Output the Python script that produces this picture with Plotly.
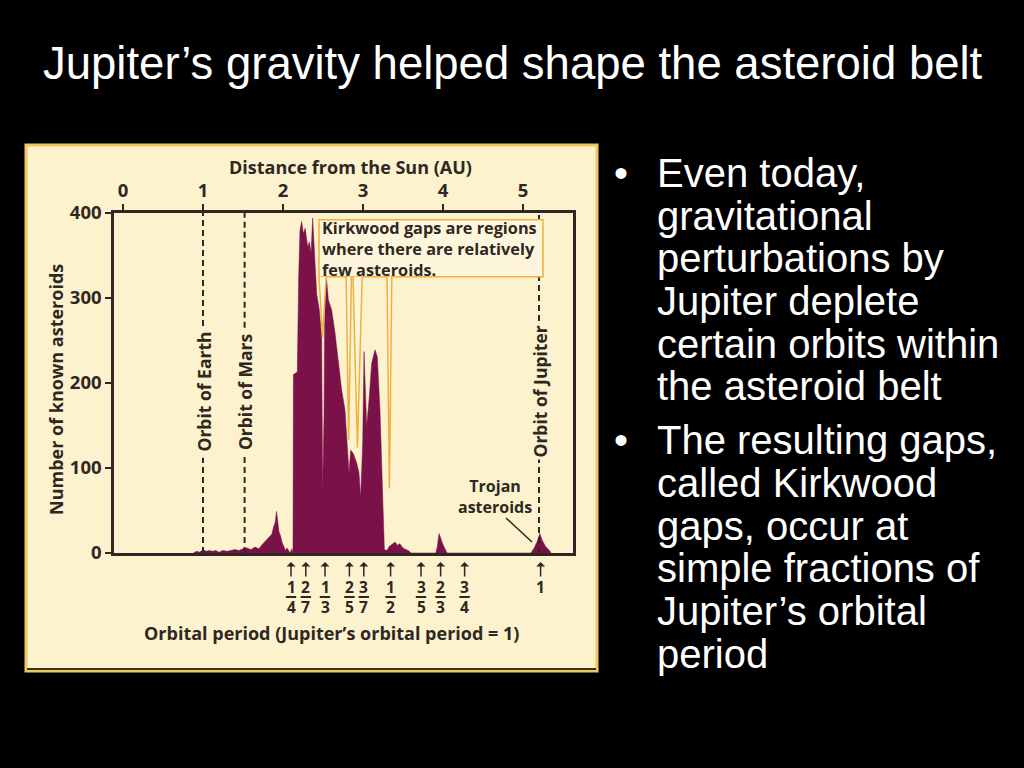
import plotly.graph_objects as go

# ---------------- data ----------------
au = [0.88, 0.92, 0.96, 1.00, 1.04, 1.08, 1.12, 1.16, 1.20, 1.25, 1.30, 1.35, 1.40, 1.45, 1.50,
      1.55, 1.60, 1.65, 1.70, 1.74, 1.78, 1.82, 1.86, 1.88, 1.90, 1.92, 1.93, 1.95, 1.97, 1.99,
      2.01, 2.03, 2.05, 2.07, 2.09, 2.11, 2.125, 2.13, 2.15, 2.179, 2.196, 2.2125, 2.233, 2.254,
      2.278, 2.308, 2.329, 2.35, 2.371, 2.392, 2.421, 2.454, 2.483, 2.496, 2.5125, 2.525, 2.546,
      2.567, 2.608, 2.65, 2.692, 2.733, 2.775, 2.804, 2.825, 2.846, 2.879, 2.921, 2.95, 2.971,
      2.996, 3.0125, 3.029, 3.046, 3.079, 3.108, 3.15, 3.179, 3.2125, 3.246, 3.267, 3.30, 3.33,
      3.36, 3.40, 3.43, 3.46, 3.50, 3.54, 3.58, 3.60, 3.91, 3.93, 3.95, 3.97, 3.99, 4.02, 4.05,
      5.10, 5.14, 5.18, 5.21, 5.24, 5.28, 5.33, 5.35]
counts = [0, 2, 1, 4, 2, 3, 2, 3, 1, 3, 2, 3, 4, 3, 5,
          6, 4, 7, 5, 10, 14, 18, 22, 30, 35, 49, 38, 25, 20, 12,
          8, 3, 6, 2, 0, 5, 0, 210, 211, 213, 325, 380, 390, 376,
          382, 360, 366, 353, 394, 349, 305, 286, 254, 74, 160, 325, 321,
          298, 286, 259, 227, 192, 168, 121, 94, 121, 117, 106, 94, 66,
          129, 237, 184, 149, 184, 223, 239, 231, 168, 70, 4, 3, 8,
          10, 13, 9, 11, 6, 4, 2, 0, 0, 8, 23, 18, 12, 6, 0,
          0, 6, 14, 23, 15, 8, 3, 0]

x_ticks = [0, 1, 2, 3, 4, 5]
y_ticks = [0, 100, 200, 300, 400]

orbits = ["Orbit of Earth", "Orbit of Mars", "Orbit of Jupiter"]
orbit_au = [1.0, 1.52, 5.2]

res_num = ["1", "2", "1", "2", "3", "1", "3", "2", "3", "1"]
res_den = ["4", "7", "3", "5", "7", "2", "5", "3", "4", ""]
res_au = [2.10, 2.285, 2.525, 2.83, 3.01, 3.345, 3.725, 3.97, 4.27, 5.22]

# gap pointers: (left top, right top, apex x, apex y)
gap_left = [2.45, 2.79, 2.875, 3.30]
gap_right = [2.54, 2.855, 2.99, 3.36]
gap_apex_x = [2.495, 2.82, 2.93, 3.33]
gap_apex_y = [254, 133, 124, 76]

bullets = [
    ["Even today,", "gravitational", "perturbations by", "Jupiter deplete",
     "certain orbits within", "the asteroid belt"],
    ["The resulting gaps,", "called Kirkwood", "gaps, occur at", "simple fractions of",
     "Jupiter’s orbital", "period"],
]

# ---------------- styling ----------------
PURPLE = "#7A1148"
CREAM = "#FCF2CE"
BOXCREAM = "#FEF6DC"
ORANGE = "#F0B03C"
INK = "#2F2822"
BORDER = "#F2C85E"
CF = "Open Sans"
SF = "Liberation Sans"

L, R, T, B = 114, 573, 213, 553


def px(xp):
    return (xp - L) / (R - L)


def py(yp):
    return (B - yp) / (B - T)


def vy(yp):  # pixel -> data value
    return (B - yp) / 0.85


def ann(**kw):
    kw.setdefault("xanchor", "center")
    kw.setdefault("yanchor", "middle")
    kw.setdefault("showarrow", False)
    return kw


fig = go.Figure()
fig.add_trace(go.Scatter(x=au, y=counts, mode="lines", fill="tozeroy",
                         line=dict(color=PURPLE, width=0.5), fillcolor=PURPLE,
                         hoverinfo="skip", showlegend=False))

shapes = []
annotations = []

# panel background
shapes.append(dict(type="rect", xref="paper", yref="paper", x0=px(26), x1=px(597),
                   y0=py(671), y1=py(145), fillcolor=CREAM,
                   line=dict(color=BORDER, width=3), layer="below"))
shapes.append(dict(type="line", xref="paper", yref="paper", x0=px(27), x1=px(596),
                   y0=py(669), y1=py(669), line=dict(color="#3a3020", width=2), layer="below"))

# dashed orbit lines (broken around their labels)
label_top = [267, 265, 273]
label_bot = [112, 114, 110]
for a, t, b_ in zip(orbit_au, label_top, label_bot):
    for y0, y1 in [(t, 400), (0, b_)]:
        shapes.append(dict(type="line", xref="x", yref="y", x0=a, x1=a, y0=y0, y1=y1,
                           line=dict(color=INK, width=2, dash="6px,4px"), layer="above"))
for name, a in zip(orbits, orbit_au):
    annotations.append(ann(x=a, y=190, xref="x", yref="y", text="<b>" + name + "</b>",
                           textangle=-90, font=dict(family=CF, size=17.5, color=INK)))

# Kirkwood callout
shapes.append(dict(type="rect", xref="x", yref="y", x0=2.45, x1=5.25, y0=325, y1=392,
                   fillcolor=BOXCREAM, line=dict(color=ORANGE, width=1.5), layer="above"))
for l0, r0, ax_, ay_ in zip(gap_left, gap_right, gap_apex_x, gap_apex_y):
    shapes.append(dict(type="path", xref="x", yref="y",
                       path=f"M {l0} 325 L {ax_} {ay_} L {r0} 325",
                       fillcolor=BOXCREAM, line=dict(color=ORANGE, width=1.5), layer="above"))
annotations.append(ann(x=2.465, y=358, xref="x", yref="y", xanchor="left", align="left",
                       text="<b>Kirkwood gaps are regions<br>where there are relatively<br>few asteroids.</b>",
                       font=dict(family=CF, size=16.3, color=INK)))

# Trojan label
annotations.append(ann(x=(495 - 123) / 80, y=vy(496), xref="x", yref="y",
                       text="<b>Trojan<br>asteroids</b>",
                       font=dict(family=CF, size=16, color=INK)))
shapes.append(dict(type="line", xref="x", yref="y", x0=(506 - 123) / 80, y0=vy(518),
                   x1=(532 - 123) / 80, y1=vy(542), line=dict(color=INK, width=1.5)))

# resonance arrows and fractions
for n, d, a in zip(res_num, res_den, res_au):
    annotations.append(dict(x=a, y=py(562), xref="x", yref="paper", ax=0, ay=16,
                            axref="pixel", ayref="pixel", text="", showarrow=True,
                            arrowhead=1, arrowsize=1, arrowwidth=1.5, arrowcolor=INK,
                            standoff=0, startstandoff=0))
    annotations.append(ann(x=a, y=py(587), xref="x", yref="paper", text="<b>" + n + "</b>",
                           font=dict(family=CF, size=15.5, color=INK)))
    if d:
        annotations.append(ann(x=a, y=py(607), xref="x", yref="paper", text="<b>" + d + "</b>",
                               font=dict(family=CF, size=15.5, color=INK)))
        shapes.append(dict(type="line", xref="x", yref="paper", x0=a - 0.065, x1=a + 0.065,
                           y0=py(597), y1=py(597), line=dict(color=INK, width=2)))

# axis titles
annotations.append(ann(x=px(350), y=py(167), xref="paper", yref="paper",
                       text="<b>Distance from the Sun (AU)</b>",
                       font=dict(family=CF, size=18, color=INK)))
annotations.append(ann(x=px(56), y=py(390), xref="paper", yref="paper",
                       text="<b>Number of known asteroids</b>", textangle=-90,
                       font=dict(family=CF, size=18, color=INK)))
annotations.append(ann(x=px(331), y=py(633), xref="paper", yref="paper",
                       text="<b>Orbital period (Jupiter’s orbital period = 1)</b>",
                       font=dict(family=CF, size=18, color=INK)))

# slide title
annotations.append(ann(x=px(513), y=py(63), xref="paper", yref="paper",
                       text="Jupiter’s gravity helped shape the asteroid belt",
                       font=dict(family=SF, size=45.5, color="white")))

# bullets
ypos = 173
for group in bullets:
    annotations.append(ann(x=px(621), y=py(ypos), xref="paper", yref="paper", text="•",
                           font=dict(family=SF, size=40, color="white")))
    for line in group:
        annotations.append(ann(x=px(655), y=py(ypos), xref="paper", yref="paper", text=line,
                               xanchor="left", font=dict(family=SF, size=40, color="white")))
        ypos += 42.7
    ypos += 11

fig.update_layout(
    width=1024, height=768,
    margin=dict(l=L, r=1024 - R, t=T, b=768 - B, pad=0),
    paper_bgcolor="black", plot_bgcolor="rgba(0,0,0,0)",
    shapes=shapes, annotations=annotations, showlegend=False,
    xaxis=dict(range=[(L - 123) / 80, (R - 123) / 80], side="top", tickvals=x_ticks,
               ticktext=[f"<b>{v}</b>" for v in x_ticks], ticks="outside", ticklen=6, tickwidth=2,
               tickcolor=INK, showline=True, linecolor=INK, linewidth=2.5, mirror=True,
               showgrid=False, zeroline=False, tickfont=dict(family=CF, size=18.5, color=INK)),
    yaxis=dict(range=[0, 400], tickvals=y_ticks, ticktext=[f"<b>{v}</b>" for v in y_ticks],
               ticks="outside", ticklen=6, tickwidth=2, tickcolor=INK, showline=True,
               linecolor=INK, linewidth=2.5, mirror=True, showgrid=False, zeroline=False,
               tickfont=dict(family=CF, size=18.5, color=INK)),
)

fig.write_html("out.html", config={"displayModeBar": False},
               post_script="document.body.style.margin='0px';document.body.style.background='black';")
